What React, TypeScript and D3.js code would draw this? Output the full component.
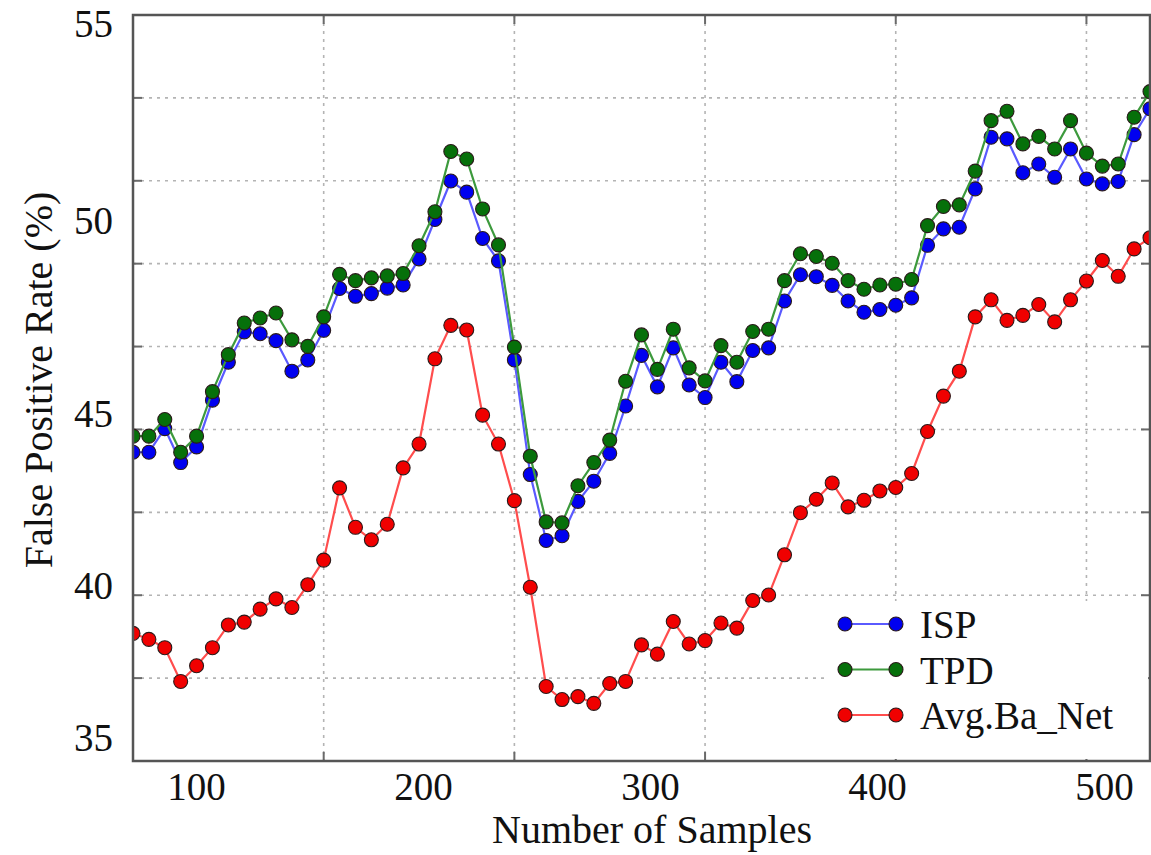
import React from "react";
import * as d3 from "d3";

// Number of samples at each measurement
const samples = [
  72, 79, 86, 93, 100, 107, 114, 121, 128, 135, 142, 149, 156, 163, 170, 177,
  184, 191, 198, 205, 212, 219, 226, 233, 240, 247, 254, 261, 268, 275, 282,
  289, 296, 303, 310, 317, 324, 331, 338, 345, 352, 359, 366, 373, 380, 387,
  394, 401, 408, 415, 422, 429, 436, 443, 450, 457, 464, 471, 478, 485, 492,
  499, 506, 513, 520,
];

// False positive rate (%) per method
const isp = [
  43.93, 43.93, 44.59, 43.64, 44.08, 45.37, 46.39, 47.19, 47.14, 46.96,
  46.15, 46.45, 47.23, 48.31, 48.11, 48.18, 48.32, 48.4, 49.06, 50.04,
  50.98, 50.71, 49.57, 49.01, 46.45, 43.3, 41.38, 41.52, 42.53, 43.11,
  43.9, 45.21, 46.57, 45.73, 46.77, 45.78, 45.44, 46.39, 45.87, 46.7,
  46.77, 47.99, 48.66, 48.61, 48.39, 47.99, 47.7, 47.77, 47.88, 48.07,
  49.4, 49.81, 49.85, 50.79, 52.03, 51.99, 51.18, 51.39, 51.07, 51.75,
  51.03, 50.91, 50.97, 52.09, 52.7,
];
const tpd = [
  44.38, 44.38, 44.84, 43.93, 44.38, 45.6, 46.59, 47.42, 47.55, 47.68,
  46.98, 46.81, 47.58, 48.67, 48.51, 48.58, 48.63, 48.69, 49.39, 50.23,
  51.69, 51.51, 50.3, 49.41, 46.79, 43.82, 41.93, 41.9, 42.98, 43.64,
  44.27, 45.88, 47.11, 46.2, 47.26, 46.24, 45.89, 46.83, 46.39, 47.2,
  47.26, 48.51, 49.19, 49.12, 48.95, 48.51, 48.29, 48.4, 48.42, 48.54,
  49.89, 50.36, 50.4, 51.22, 52.42, 52.64, 51.87, 52.05, 51.75, 52.42,
  51.65, 51.34, 51.39, 52.5, 53.1,
];
const avgBaNet = [
  38.51, 38.32, 38.05, 36.94, 37.46, 38.05, 38.78, 38.87, 39.28, 39.6,
  39.33, 40.04, 40.79, 42.92, 41.77, 41.4, 41.86, 43.49, 44.16, 46.48,
  47.36, 47.24, 44.96, 44.16, 42.55, 39.96, 36.77, 36.33, 36.43, 36.2,
  36.87, 36.94, 38.14, 37.84, 38.89, 38.17, 38.28, 38.84, 38.68, 39.55,
  39.72, 40.95, 42.2, 42.59, 43.06, 42.37, 42.56, 42.83, 42.93, 43.33,
  44.51, 45.48, 46.15, 47.58, 48.02, 47.49, 47.62, 47.9, 47.45, 48.02,
  48.5, 49.02, 48.62, 49.31, 49.59,
];

const xTicks = [100, 200, 300, 400, 500];
const yTicks = [35, 40, 45, 50, 55];
const xGrid = [156, 240, 324, 408, 492];

const seriesNames = ["ISP", "TPD", "Avg.Ba_Net"];

const W = 1151;
const H = 855;
const left = 133;
const right = 1150;
const top = 15;
const bottom = 761;

const FONT = "'Liberation Serif', 'Times New Roman', serif";

export default function App() {
  const x = d3.scaleLinear().domain([72, 520]).range([left, right]);
  const y = d3.scalePow().exponent(2).domain([34.18, 54.85]).range([bottom, top]);
  const rows = d3.scaleLinear().domain([0, 9]).range([bottom, top]);
  const yGrid = d3.range(1, 9).map((k) => rows(k));

  const series = [
    { name: seriesNames[0], values: isp, line: "#5a5aff", dot: "#0000f0" },
    { name: seriesNames[1], values: tpd, line: "#3d9a3d", dot: "#06700a" },
    { name: seriesNames[2], values: avgBaNet, line: "#ff4d4d", dot: "#f00000" },
  ];

  const line = d3
    .line<number>()
    .x((_, i) => x(samples[i]))
    .y((d) => y(d));

  const legendX0 = 845;
  const legendX1 = 896;
  const legendY0 = 624;
  const legendStep = 45.5;

  return (
    <svg
      width={W}
      height={H}
      style={{ position: "absolute", left: 0, top: 0, background: "#fff" }}
      fontFamily={FONT}
    >
      <defs>
        <clipPath id="plot-area">
          <rect x={left} y={top} width={right - left} height={bottom - top} />
        </clipPath>
      </defs>

      {/* grid */}
      <g stroke="#b4b4b4" strokeWidth={1.6} strokeDasharray="3,5">
        {yGrid.map((gy, i) => (
          <line key={"gy" + i} x1={left} x2={right} y1={gy} y2={gy} />
        ))}
        {xGrid.map((v) => (
          <line key={"gx" + v} x1={x(v)} x2={x(v)} y1={top} y2={bottom} />
        ))}
      </g>

      {/* tick marks on all sides */}
      <g stroke="#6a6a6a" strokeWidth={2}>
        {yGrid.map((gy, i) => (
          <g key={"ty" + i}>
            <line x1={left} x2={left + 9} y1={gy} y2={gy} />
            <line x1={right - 9} x2={right} y1={gy} y2={gy} />
          </g>
        ))}
        {xGrid.map((v) => (
          <g key={"tx" + v}>
            <line x1={x(v)} x2={x(v)} y1={bottom} y2={bottom - 9} />
            <line x1={x(v)} x2={x(v)} y1={top} y2={top + 9} />
          </g>
        ))}
      </g>

      {/* series */}
      <g clipPath="url(#plot-area)">
        {series.map((s) => (
          <g key={s.name}>
            <path d={line(s.values) || ""} fill="none" stroke={s.line} strokeWidth={2.2} />
            {s.values.map((v, i) => (
              <circle
                key={i}
                cx={x(samples[i])}
                cy={y(v)}
                r={7}
                fill={s.dot}
                stroke="#2a1a1a"
                strokeWidth={1.1}
              />
            ))}
          </g>
        ))}
      </g>

      {/* legend */}
      <rect x={828} y={601} width={right - 828 - 2} height={bottom - 603} fill="#fff" />
      {series.map((s, i) => {
        const ly = legendY0 + i * legendStep;
        return (
          <g key={"lg" + s.name}>
            <line x1={legendX0} x2={legendX1} y1={ly} y2={ly} stroke={s.line} strokeWidth={2.2} />
            <circle cx={legendX0} cy={ly} r={7} fill={s.dot} stroke="#2a1a1a" strokeWidth={1.1} />
            <circle cx={legendX1} cy={ly} r={7} fill={s.dot} stroke="#2a1a1a" strokeWidth={1.1} />
            <text x={920} y={ly + 14} fontSize={39} fill="#111">
              {s.name}
            </text>
          </g>
        );
      })}

      {/* frame */}
      <rect
        x={left}
        y={top}
        width={right - left}
        height={bottom - top}
        fill="none"
        stroke="#555"
        strokeWidth={2.5}
      />

      {/* axis labels */}
      <g fontSize={39} fill="#111">
        {xTicks.map((v) => (
          <text key={"xl" + v} x={x(v)} y={800} textAnchor="middle">
            {v}
          </text>
        ))}
        {yTicks.map((v) => (
          <text
            key={"yl" + v}
            x={113}
            y={Math.max(y(v), top + 9) + 13}
            textAnchor="end"
          >
            {v}
          </text>
        ))}
      </g>

      <text x={652} y={843} fontSize={40} textAnchor="middle" fill="#111">
        Number of Samples
      </text>
      <text
        transform="translate(52,380) rotate(-90)"
        fontSize={40}
        textAnchor="middle"
        fill="#111"
      >
        False Positive Rate (%)
      </text>
    </svg>
  );
}
